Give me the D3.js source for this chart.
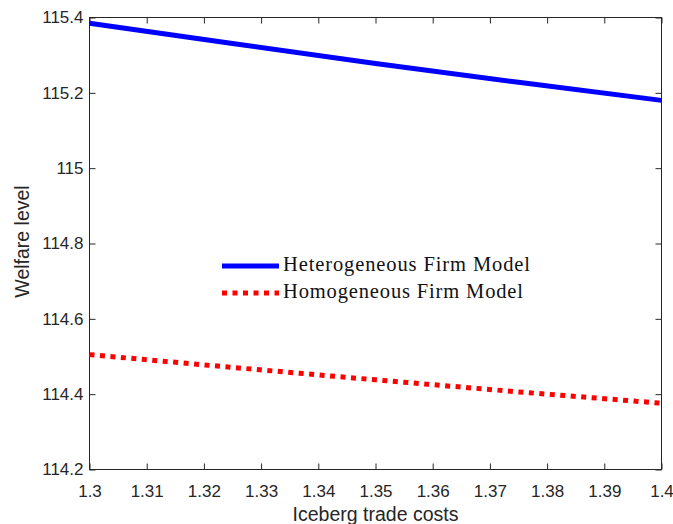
<!DOCTYPE html>
<html>
<head>
<meta charset="utf-8">
<script src="https://cdn.jsdelivr.net/npm/d3@7"></script>
<style>
  html, body { margin: 0; padding: 0; background: #fff; }
  svg { display: block; }
</style>
</head>
<body>
<svg id="chart" width="673" height="524"></svg>
<script>
// Welfare under iceberg trade costs for two firm models
const costs = [1.3, 1.325, 1.35, 1.375, 1.4];
const heterogeneous = [115.385, 115.331, 115.278, 115.228, 115.180];
const homogeneous = [114.505, 114.471, 114.438, 114.406, 114.376];
const xTicks = [1.3, 1.31, 1.32, 1.33, 1.34, 1.35, 1.36, 1.37, 1.38, 1.39, 1.4];
const yTicks = [114.2, 114.4, 114.6, 114.8, 115, 115.2, 115.4];
const seriesNames = ["Heterogeneous Firm Model", "Homogeneous Firm Model"];

const svg = d3.select("#chart");
const m = { left: 89.5, right: 661.5, top: 17.5, bottom: 469.5 };
const x = d3.scaleLinear().domain([1.3, 1.4]).range([m.left, m.right]);
const y = d3.scaleLinear().domain([114.2, 115.4]).range([m.bottom, m.top]);

const axisColor = "#262626";
const tickFont = "Liberation Sans, Arial, Helvetica, sans-serif";

function styleAxis(g, showLabels) {
  g.select(".domain").remove();
  g.selectAll(".tick line").attr("stroke", axisColor).attr("stroke-width", 1);
  g.selectAll(".tick text")
    .attr("fill", axisColor)
    .style("font-family", tickFont)
    .style("font-size", "17px")
    .style("display", showLabels ? null : "none");
}

// bottom axis
svg.append("g").attr("transform", `translate(0,${m.bottom})`)
  .call(d3.axisBottom(x).tickValues(xTicks).tickSize(-6).tickPadding(15).tickFormat(d3.format("")))
  .call(g => styleAxis(g, true));
// top axis ticks
svg.append("g").attr("transform", `translate(0,${m.top})`)
  .call(d3.axisTop(x).tickValues(xTicks).tickSize(-6))
  .call(g => styleAxis(g, false));
// left axis
svg.append("g").attr("transform", `translate(${m.left},0)`)
  .call(d3.axisLeft(y).tickValues(yTicks).tickSize(-6).tickPadding(6).tickFormat(d3.format("")))
  .call(g => styleAxis(g, true));
// right axis ticks
svg.append("g").attr("transform", `translate(${m.right},0)`)
  .call(d3.axisRight(y).tickValues(yTicks).tickSize(-6))
  .call(g => styleAxis(g, false));

// plot box
svg.append("rect")
  .attr("x", m.left).attr("y", m.top)
  .attr("width", m.right - m.left).attr("height", m.bottom - m.top)
  .attr("fill", "none").attr("stroke", axisColor).attr("stroke-width", 1);

const line = d3.line().x((d, i) => x(costs[i])).y(d => y(d));

const plot = svg.append("g");
plot.append("path").datum(heterogeneous)
  .attr("d", line).attr("fill", "none")
  .attr("stroke", "#0000ff").attr("stroke-width", 5);
plot.append("path").datum(homogeneous)
  .attr("d", line).attr("fill", "none")
  .attr("stroke", "#ff0000").attr("stroke-width", 5)
  .attr("stroke-dasharray", "5,5.5");

// axis titles
svg.append("text")
  .attr("x", (m.left + m.right) / 2).attr("y", 520.5)
  .attr("text-anchor", "middle")
  .attr("fill", axisColor)
  .style("font-family", tickFont).style("font-size", "19.5px")
  .text("Iceberg trade costs");
svg.append("text")
  .attr("transform", `translate(28.5,${(m.top + m.bottom) / 2 - 2}) rotate(-90)`)
  .attr("text-anchor", "middle")
  .attr("fill", axisColor)
  .style("font-family", tickFont).style("font-size", "19.5px")
  .text("Welfare level");

// legend
const legend = svg.append("g");
const legendItems = [
  { name: seriesNames[0], color: "#0000ff", dash: null, y: 266, len: 247 },
  { name: seriesNames[1], color: "#ff0000", dash: "5,5.5", y: 293, len: 240 }
];
legendItems.forEach(it => {
  legend.append("line")
    .attr("x1", 222).attr("x2", 279).attr("y1", it.y).attr("y2", it.y)
    .attr("stroke", it.color).attr("stroke-width", 5)
    .attr("stroke-dasharray", it.dash);
  legend.append("text")
    .attr("x", 283).attr("y", it.y + 5)
    .attr("fill", "#111")
    .attr("textLength", it.len)
    .attr("lengthAdjust", "spacing")
    .style("font-family", "Liberation Serif, 'DejaVu Serif', serif")
    .style("font-size", "20.5px")
    .text(it.name);
});
</script>
</body>
</html>
